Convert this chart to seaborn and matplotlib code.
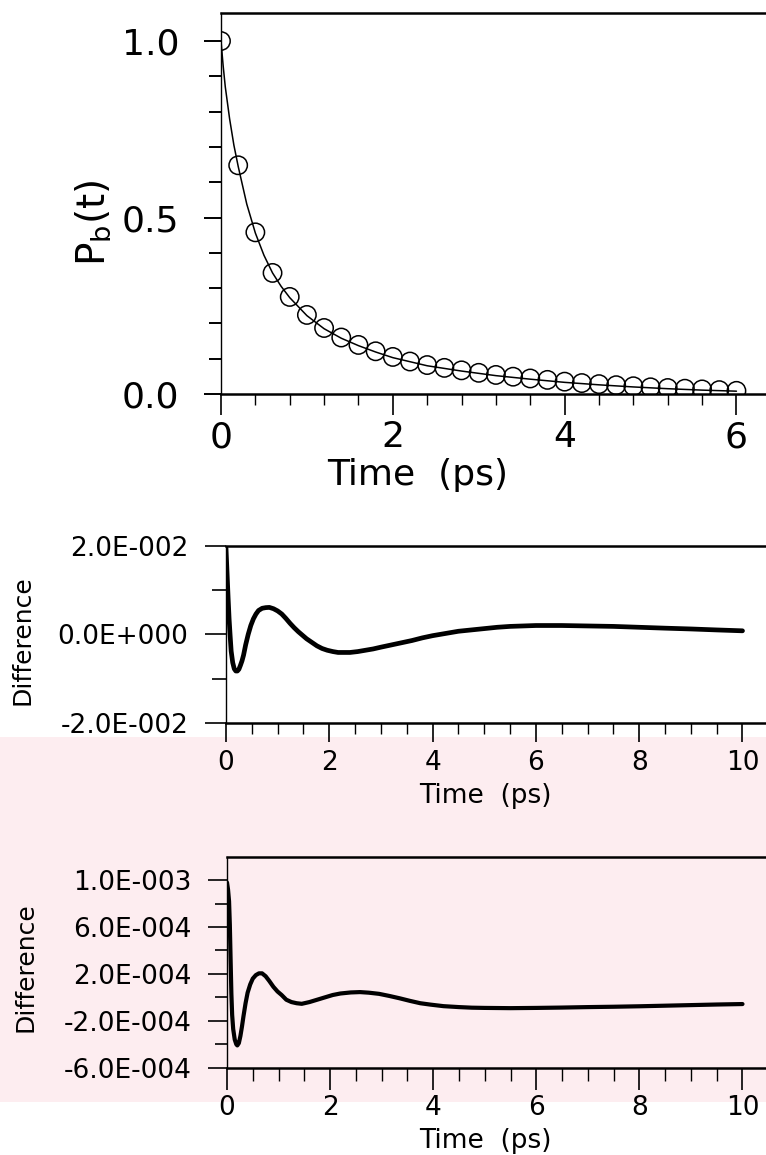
import matplotlib
matplotlib.use("Agg")
import matplotlib.pyplot as plt
from matplotlib.patches import Rectangle
import seaborn as sns

# ---------------- data ----------------
# Panel 1: simulated P_b(t) (circles) and fit (line)
t_sim = [0.0, 0.2, 0.4, 0.6, 0.8, 1.0, 1.2, 1.4, 1.6, 1.8, 2.0, 2.2, 2.4, 2.6, 2.8, 3.0,
         3.2, 3.4, 3.6, 3.8, 4.0, 4.2, 4.4, 4.6, 4.8, 5.0, 5.2, 5.4, 5.6, 5.8, 6.0]
p_sim = [1.000, 0.648, 0.458, 0.343, 0.275, 0.224, 0.187, 0.160, 0.139, 0.121, 0.105,
         0.092, 0.082, 0.074, 0.067, 0.060, 0.054, 0.049, 0.044, 0.040, 0.035, 0.031,
         0.028, 0.025, 0.022, 0.019, 0.017, 0.015, 0.013, 0.011, 0.009]
t_fit = [0.0, 0.025, 0.05, 0.1, 0.15, 0.2, 0.3, 0.4, 0.5, 0.6, 0.7, 0.8, 1.0, 1.2, 1.4,
         1.6, 1.8, 2.0, 2.4, 2.8, 3.2, 3.6, 4.0, 4.4, 4.8, 5.2, 5.6, 6.0]
p_fit = [1.000, 0.930, 0.870, 0.780, 0.705, 0.645, 0.538, 0.456, 0.393, 0.343, 0.305,
         0.273, 0.222, 0.185, 0.158, 0.137, 0.119, 0.103, 0.080, 0.065, 0.052, 0.042,
         0.033, 0.026, 0.020, 0.015, 0.011, 0.008]

# Panel 2: difference (first case)
t_d1 = [0.0, 0.02, 0.04, 0.06, 0.08, 0.10, 0.13, 0.16, 0.19, 0.22, 0.25, 0.28, 0.31,
        0.34, 0.38, 0.43, 0.48, 0.53, 0.58, 0.63, 0.70, 0.77, 0.84, 0.92, 1.00, 1.08,
        1.16, 1.24, 1.32, 1.40, 1.48, 1.56, 1.66, 1.76, 1.86, 1.96, 2.07, 2.17, 2.27,
        2.40, 2.55, 2.70, 2.85, 3.0, 3.2, 3.4, 3.6, 3.8, 4.0, 4.25, 4.5, 4.75, 5.0,
        5.25, 5.5, 5.75, 6.0, 6.5, 7.0, 7.5, 8.0, 8.5, 9.0, 9.5, 10.0]
d1 = [0.0195, 0.0140, 0.0085, 0.0035, -0.0003, -0.0038, -0.0064, -0.0078, -0.0083,
      -0.0083, -0.0079, -0.0070, -0.0060, -0.0047, -0.0024, 0.0, 0.0020, 0.0035, 0.0046,
      0.0054, 0.0059, 0.00605, 0.0061, 0.0058, 0.0053, 0.0046, 0.0036, 0.0025, 0.0015,
      0.0006, -0.0002, -0.0010, -0.0018, -0.0026, -0.0032, -0.0036, -0.0039, -0.0041,
      -0.0041, -0.0041, -0.0039, -0.0036, -0.0033, -0.0029, -0.0024, -0.0019, -0.0014,
      -0.0008, -0.0003, 0.0002, 0.0007, 0.0010, 0.0013, 0.0016, 0.0018, 0.0019, 0.0020,
      0.0020, 0.0019, 0.0018, 0.0016, 0.0014, 0.00122, 0.0010, 0.0008]

# Panel 3: difference (second case)
t_d2 = [0.0, 0.02, 0.04, 0.055, 0.07, 0.085, 0.10, 0.12, 0.15, 0.18, 0.20, 0.23, 0.26,
        0.29, 0.32, 0.36, 0.40, 0.45, 0.50, 0.56, 0.62, 0.68, 0.75, 0.82, 0.90, 0.98,
        1.06, 1.15, 1.25, 1.35, 1.45, 1.6, 1.75, 1.9, 2.05, 2.2, 2.4, 2.58, 2.75, 2.95,
        3.15, 3.35, 3.55, 3.75, 3.95, 4.2, 4.5, 4.75, 5.0, 5.5, 6.0, 6.5, 7.0, 7.5, 8.0,
        8.5, 9.0, 9.5, 10.0]
d2 = [0.00098, 0.00092, 0.00082, 0.00062, 0.00032, 0.00003, -0.00015, -0.00027,
      -0.00036, -0.00040, -0.00041, -0.00039, -0.00033, -0.00025, -0.00016, -0.00005,
      0.00004, 0.00011, 0.00016, 0.00019, 0.000205, 0.000205, 0.00018, 0.00014,
      0.00009, 0.00005, 0.00002, -0.00002, -0.00004, -0.00005, -0.000055, -0.00004,
      -0.00002, 0.0, 0.00002, 0.000033, 0.000042, 0.000045, 0.00004, 0.00003, 0.000012,
      -0.000008, -0.00003, -0.00005, -0.000062, -0.000075, -0.000083, -0.000088,
      -0.00009, -0.000092, -0.00009, -0.000087, -0.000083, -0.00008, -0.000076,
      -0.000071, -0.000066, -0.000061, -0.000057]

# tick labels
p1_yticks = [0.0, 0.5, 1.0]
p1_yticklabels = ["0.0", "0.5", "1.0"]
p1_xticks = [0, 2, 4, 6]
p2_yticks = [-0.02, 0.0, 0.02]
p2_yticklabels = ["-2.0E-002", "0.0E+000", "2.0E-002"]
p3_yticks = [-0.0006, -0.0002, 0.0002, 0.0006, 0.001]
p3_yticklabels = ["-6.0E-004", "-2.0E-004", "2.0E-004", "6.0E-004", "1.0E-003"]
diff_xticks = [0, 2, 4, 6, 8, 10]

# ---------------- style ----------------
sns.set_style("ticks")
plt.rcParams["font.family"] = ["DejaVu Sans"]
plt.rcParams["mathtext.fontset"] = "dejavusans"
plt.rcParams["axes.linewidth"] = 1.6
for key in ["text.color", "axes.labelcolor", "xtick.color", "ytick.color",
            "axes.edgecolor"]:
    plt.rcParams[key] = "black"

W, H = 766, 1155
fig = plt.figure(figsize=(W / 100, H / 100), dpi=100)
fig.patch.set_facecolor("white")

# watermark-like pink band in the lower part
fig.patches.append(Rectangle((0, 1 - 1102 / H), 1, (1102 - 737) / H,
                             transform=fig.transFigure, facecolor="#fdedf0",
                             edgecolor="none", zorder=-5))


def px_axes(left, right, top, bottom):
    return fig.add_axes([left / W, 1 - bottom / H, (right - left) / W, (bottom - top) / H])


def style_axes(ax):
    ax.patch.set_alpha(0)
    ax.spines["right"].set_visible(False)
    ax.spines["left"].set_linewidth(1.0)
    ax.spines["top"].set_linewidth(1.8)
    ax.spines["bottom"].set_linewidth(1.8)
    for s in ax.spines.values():
        s.set_color("black")


# ---------- panel 1 ----------
ax1 = px_axes(221, 766, 12.8, 394)
sns.lineplot(x=t_fit, y=p_fit, ax=ax1, color="black", linewidth=1.1, sort=False)
sns.scatterplot(x=t_sim, y=p_sim, ax=ax1, s=175, facecolor="none",
                edgecolor="black", linewidth=1.1, zorder=3)
ax1.set_xlim(0, 6.344)
ax1.set_ylim(0, 1.08)
style_axes(ax1)
ax1.set_yticks(p1_yticks)
ax1.set_yticklabels(p1_yticklabels)
ax1.set_yticks([0.1, 0.2, 0.3, 0.4, 0.6, 0.7, 0.8, 0.9], minor=True)
ax1.set_xticks(p1_xticks)
ax1.set_xticks([0.4, 0.8, 1.2, 1.6, 2.4, 2.8, 3.2, 3.6, 4.4, 4.8, 5.2, 5.6], minor=True)
ax1.tick_params(axis="y", which="major", length=12, width=1.4, pad=18, labelsize=26)
ax1.tick_params(axis="y", which="minor", length=9, width=1.4)
ax1.tick_params(axis="x", which="major", length=15, width=1.2, pad=4, labelsize=26)
ax1.tick_params(axis="x", which="minor", length=8, width=1.0)
ax1.set_xlabel("Time  (ps)", fontsize=26)
ax1.set_ylabel(r"P$_\mathregular{b}$(t)", fontsize=28)
ax1.xaxis.set_label_coords(0.3615, -0.168)
ax1.yaxis.set_label_coords(-0.198, 0.449)

# ---------- panel 2 ----------
ax2 = px_axes(226, 766, 546, 722.7)
sns.lineplot(x=t_d1, y=d1, ax=ax2, color="black", linewidth=3.4, sort=False)
ax2.set_xlim(0, 10.455)
ax2.set_ylim(-0.02, 0.02)
style_axes(ax2)
ax2.set_yticks(p2_yticks)
ax2.set_yticklabels(p2_yticklabels)
ax2.set_yticks([-0.01, 0.01], minor=True)
ax2.set_xticks(diff_xticks)
ax2.set_xticklabels([str(v) for v in diff_xticks])
ax2.set_xticks([0.5 * i for i in range(1, 21) if i % 4 != 0], minor=True)
ax2.tick_params(axis="y", which="major", length=15, width=1.2, pad=12, labelsize=19)
ax2.tick_params(axis="y", which="minor", length=10, width=1.2)
ax2.tick_params(axis="x", which="major", length=14, width=1.2, pad=6, labelsize=19)
ax2.tick_params(axis="x", which="minor", length=8, width=1.0)
ax2.set_xlabel("Time  (ps)", fontsize=19)
ax2.set_ylabel("Difference", fontsize=18)
ax2.xaxis.set_label_coords(0.48, -0.341)
ax2.yaxis.set_label_coords(-0.354, 0.468)

# ---------- panel 3 ----------
ax3 = px_axes(227, 766, 856.7, 1067.7)
sns.lineplot(x=t_d2, y=d2, ax=ax3, color="black", linewidth=3.0, sort=False)
ax3.set_xlim(0, 10.456)
ax3.set_ylim(-0.0006, 0.0012)
style_axes(ax3)
ax3.set_yticks(p3_yticks)
ax3.set_yticklabels(p3_yticklabels)
ax3.set_yticks([-0.0004, 0.0, 0.0004, 0.0008], minor=True)
ax3.set_xticks(diff_xticks)
ax3.set_xticklabels([str(v) for v in diff_xticks])
ax3.set_xticks([0.5 * i for i in range(1, 21) if i % 4 != 0], minor=True)
ax3.tick_params(axis="y", which="major", length=14, width=1.2, pad=11.5, labelsize=19)
ax3.tick_params(axis="y", which="minor", length=9, width=1.2)
ax3.tick_params(axis="x", which="major", length=16, width=1.2, pad=4, labelsize=19)
ax3.tick_params(axis="x", which="minor", length=9, width=1.0)
ax3.set_xlabel("Time  (ps)", fontsize=19)
ax3.set_ylabel("Difference", fontsize=18)
ax3.xaxis.set_label_coords(0.479, -0.286)
ax3.yaxis.set_label_coords(-0.351, 0.479)

fig.savefig("out.png", dpi=100)
